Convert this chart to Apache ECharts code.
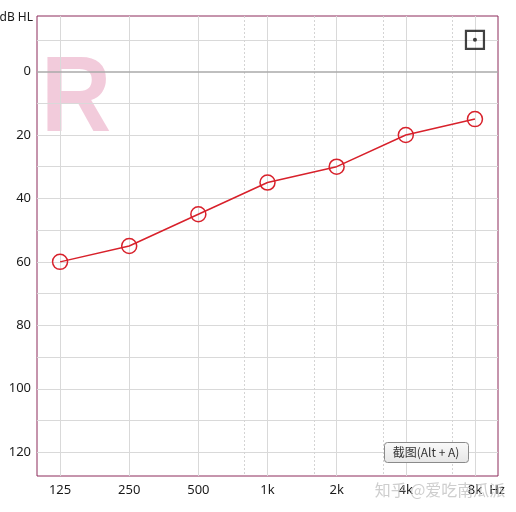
<!DOCTYPE html>
<html><head><meta charset="utf-8">
<script src="https://cdn.jsdelivr.net/npm/echarts@6/dist/echarts.min.js"></script>
<style>html,body{margin:0;padding:0;background:#fff}#c{width:516px;height:512px}</style>
</head><body><div id="c"></div>
<script>
// Frequencies as octave index (125 Hz = 0 ... 8 kHz = 6)
const freqLabels = ['125', '250', '500', '1k', '2k', '4k', '8k'];
const freqIndex = [0, 1, 2, 3, 4, 5, 6];
const thresholds = [60, 55, 45, 35, 30, 20, 15];
const yTickLabels = [0, 20, 40, 60, 80, 100, 120];
const yGridValues = [-10, 10, 20, 30, 40, 50, 60, 70, 80, 90, 100, 110, 120];
const yZeroLine = [0];
const xMajorGrid = [0, 1, 2, 3, 4, 5, 6];
const xMinorGrid = [2 + 2/3, 3 + 2/3, 4 + 2/3, 5 + 2/3];
const boxPoint = [[6, -10]];

const chart = echarts.init(document.getElementById('c'), null, {renderer: 'canvas'});
const font = "'Noto Sans', 'DejaVu Sans', sans-serif";

const gridLines = [];
yGridValues.forEach(v => gridLines.push({yAxis: v, lineStyle: {color: '#d9d9d9', width: 1, type: 'solid'}}));
xMajorGrid.forEach(v => gridLines.push({xAxis: v, lineStyle: {color: '#d9d9d9', width: 1, type: 'solid'}}));
xMinorGrid.forEach(v => gridLines.push({xAxis: v, lineStyle: {color: '#d4d4d4', width: 1, type: [2, 2]}}));
yZeroLine.forEach(v => gridLines.push({yAxis: v, lineStyle: {color: '#aaaaaa', width: 1.5, type: 'solid'}}));

chart.setOption({
  animation: false,
  backgroundColor: '#fff',
  grid: {left: 37, right: 18, top: 16, bottom: 36, show: true, borderColor: '#8c2a5a', borderWidth: 1, backgroundColor: 'transparent'},
  xAxis: {
    type: 'value', min: -1/3, max: 6 + 1/3,
    axisLine: {show: false}, axisTick: {show: false}, splitLine: {show: false},
    axisLabel: {customValues: freqIndex, formatter: v => freqLabels[Math.round(v)], color: '#1a1a1a', fontSize: 13, fontFamily: font, margin: 8}
  },
  yAxis: {
    type: 'value', inverse: true, min: -17.5, max: 127.5,
    axisLine: {show: false}, axisTick: {show: false}, splitLine: {show: false},
    axisLabel: {customValues: yTickLabels, color: '#1a1a1a', fontSize: 13, fontFamily: font, margin: 6}
  },
  graphic: [
    {type: 'text', z: 0, x: 41, y: 155, scaleX: 0.9, style: {text: 'R', x: 0, y: 0, font: "bold 108px 'Liberation Sans', Arial, sans-serif", fill: 'rgba(232,160,190,0.55)', textVerticalAlign: 'bottom'}},
    {type: 'text', z: 10, style: {text: 'dB HL', x: 33, y: 18, font: "12px " + font, fill: '#1a1a1a', textAlign: 'right', textVerticalAlign: 'middle'}},
    {type: 'text', z: 10, style: {text: 'Hz', x: 497, y: 490, font: "13px " + font, fill: '#1a1a1a', textAlign: 'center', textVerticalAlign: 'middle'}},
    {type: 'rect', z: 20, shape: {x: 384.5, y: 442.5, width: 84, height: 20, r: 3},
      style: {fill: new echarts.graphic.LinearGradient(0, 0, 0, 1, [{offset: 0, color: '#fafafa'}, {offset: 1, color: '#e6e6e6'}]), stroke: '#8a8a8a', lineWidth: 1}},
    {type: 'text', z: 21, style: {text: '截图(Alt + A)', x: 426, y: 452.5, font: "12px 'Noto Sans CJK SC', sans-serif", fill: '#333', textAlign: 'center', textVerticalAlign: 'middle'}},
    {type: 'text', z: 30, style: {text: '知乎 @爱吃南瓜派', x: 440, y: 490, font: "16px 'Noto Sans CJK SC', sans-serif", fill: 'rgba(190,190,190,0.75)', textAlign: 'center', textVerticalAlign: 'middle'}}
  ],
  series: [
    {
      type: 'line', name: 'grid', data: [], silent: true,
      markLine: {silent: true, symbol: ['none', 'none'], label: {show: false}, animation: false, data: gridLines, z: 1}
    },
    {
      type: 'line', name: 'R', z: 5,
      data: freqIndex.map((f, i) => [f, thresholds[i]]),
      symbol: 'circle', symbolSize: 15,
      lineStyle: {color: '#d8212b', width: 1.5},
      itemStyle: {color: 'rgba(255,255,255,0)', borderColor: '#d8212b', borderWidth: 1.5}
    },
    {
      type: 'scatter', z: 6, data: boxPoint, symbol: 'rect', symbolSize: 18,
      itemStyle: {color: 'rgba(255,255,255,0)', borderColor: '#111', borderWidth: 2.2}
    },
    {
      type: 'scatter', z: 7, data: boxPoint, symbol: 'circle', symbolSize: 4,
      itemStyle: {color: '#111'}
    }
  ]
});
</script></body></html>
